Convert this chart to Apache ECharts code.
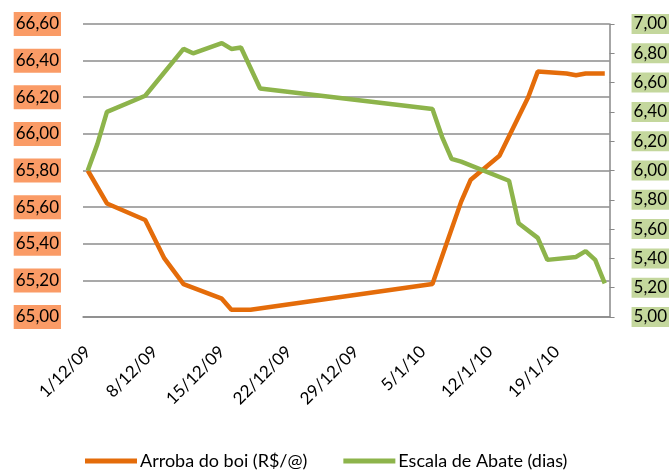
<!DOCTYPE html>
<html style="height: 100%">
<head>
    <meta charset="UTF-8">
    <script src="https://cdn.jsdelivr.net/npm/echarts@6/dist/echarts.min.js"></script>
</head>
<body style="height: 100%; margin: 0">
    <div id="container" style="height: 100%; width: 100%;"></div>
    <script type="text/javascript">
        // dias (d/m/yy) e valores
        var arrobaDatas = ['1/12/09', '3/12/09', '7/12/09', '9/12/09', '11/12/09', '15/12/09', '16/12/09',
            '18/12/09', '6/1/10', '9/1/10', '10/1/10', '13/1/10', '16/1/10', '17/1/10', '20/1/10',
            '21/1/10', '22/1/10', '24/1/10'];
        var arrobaValores = [65.80, 65.62, 65.53, 65.32, 65.18, 65.10, 65.04,
            65.04, 65.18, 65.63, 65.75, 65.88, 66.20, 66.34, 66.33,
            66.32, 66.33, 66.33];

        var escalaDatas = ['1/12/09', '2/12/09', '3/12/09', '7/12/09', '11/12/09', '12/12/09', '15/12/09',
            '16/12/09', '17/12/09', '19/12/09', '6/1/10', '7/1/10', '8/1/10', '9/1/10', '14/1/10',
            '15/1/10', '17/1/10', '18/1/10', '21/1/10', '22/1/10', '23/1/10', '24/1/10'];
        var escalaValores = [6.00, 6.18, 6.40, 6.51, 6.83, 6.80, 6.87,
            6.83, 6.84, 6.56, 6.42, 6.23, 6.08, 6.06, 5.93,
            5.64, 5.54, 5.39, 5.41, 5.45, 5.39, 5.23];

        // eixo de datas: todos os dias de 1/12/09 a 24/1/10
        var categorias = [];
        var d = new Date(2009, 11, 1);
        var fim = new Date(2010, 0, 24);
        while (d <= fim) {
            categorias.push(d.getDate() + '/' + (d.getMonth() + 1) + '/' + String(d.getFullYear()).slice(2));
            d.setDate(d.getDate() + 1);
        }

        function pares(datas, valores) {
            var out = [];
            for (var i = 0; i < datas.length; i++) {
                out.push([datas[i], valores[i]]);
            }
            return out;
        }

        function virgula(v) {
            return v.toFixed(2).replace('.', ',');
        }

        var fonte = 'Lato';
        var myChart = echarts.init(document.getElementById('container'));
        var option = {
            animation: false,
            textStyle: {fontFamily: fonte},
            grid: {left: 83, right: 61, top: 24, bottom: 158},
            legend: {
                bottom: 0,
                left: 80,
                icon: 'rect',
                itemWidth: 52,
                itemHeight: 5,
                itemGap: 36,
                textStyle: {fontFamily: fonte, fontSize: 18, color: '#000', padding: [0, 0, 0, -2]},
                data: ['Arroba do boi (R$/@)', 'Escala de Abate (dias)']
            },
            xAxis: {
                type: 'category',
                data: categorias,
                boundaryGap: true,
                axisLine: {lineStyle: {color: '#898989', width: 1.5}},
                axisTick: {show: false},
                axisLabel: {
                    interval: 6,
                    rotate: 45,
                    margin: 32,
                    fontSize: 17,
                    color: '#000',
                    fontFamily: fonte
                }
            },
            yAxis: [{
                type: 'value',
                min: 65,
                max: 66.6,
                interval: 0.2,
                axisLine: {show: false},
                axisTick: {show: false},
                splitLine: {lineStyle: {color: '#8c8c8c', width: 1.5}},
                axisLabel: {
                    formatter: virgula,
                    fontSize: 17,
                    color: '#000',
                    fontFamily: fonte,
                    backgroundColor: '#FA9B66',
                    padding: [4, 2, 3, 2],
                    margin: 22
                }
            }, {
                type: 'value',
                min: 5,
                max: 7,
                interval: 0.2,
                position: 'right',
                axisLine: {show: true, lineStyle: {color: '#898989', width: 1.5}},
                axisTick: {show: true, length: 5, lineStyle: {color: '#898989'}},
                splitLine: {show: false},
                axisLabel: {
                    formatter: virgula,
                    fontSize: 17,
                    color: '#000',
                    fontFamily: fonte,
                    backgroundColor: '#C4D79D',
                    padding: [2, 2, 1, 2],
                    margin: 22
                }
            }],
            series: [{
                name: 'Arroba do boi (R$/@)',
                type: 'line',
                yAxisIndex: 0,
                data: pares(arrobaDatas, arrobaValores),
                connectNulls: true,
                symbol: 'none',
                lineStyle: {color: '#E46C0A', width: 4.5},
                itemStyle: {color: '#E46C0A'}
            }, {
                name: 'Escala de Abate (dias)',
                type: 'line',
                yAxisIndex: 1,
                data: pares(escalaDatas, escalaValores),
                connectNulls: true,
                symbol: 'none',
                lineStyle: {color: '#8DB44B', width: 4.5},
                itemStyle: {color: '#8DB44B'}
            }]
        };
        myChart.setOption(option, true);
        window.onresize = function () {
            myChart.resize();
        };
    </script>
</body>
</html>
